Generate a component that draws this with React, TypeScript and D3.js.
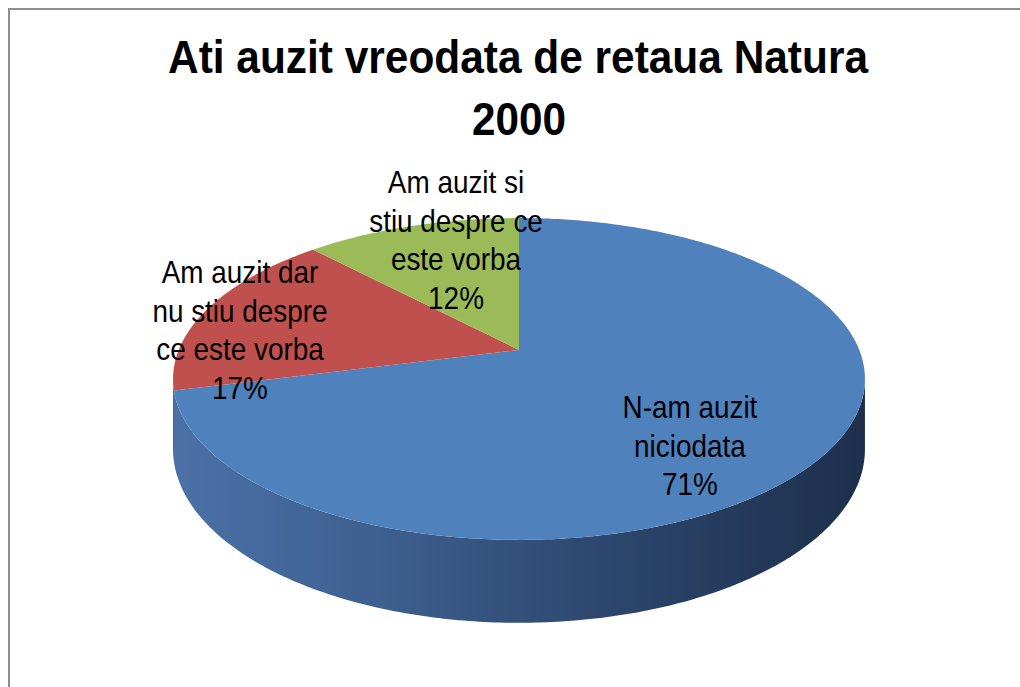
import * as d3 from "d3";

// chart data
const categories = [
  "N-am auzit niciodata",
  "Am auzit dar nu stiu despre ce este vorba",
  "Am auzit si stiu despre ce este vorba",
];
const values = [71, 17, 12];
const labelLines = [
  ["N-am auzit", "niciodata"],
  ["Am auzit dar", "nu stiu despre", "ce este vorba"],
  ["Am auzit si", "stiu despre ce", "este vorba"],
];
const titleLines = ["Ati auzit vreodata de retaua Natura", "2000"];

const topColors = ["#4f81bd", "#c0504d", "#9bbb59"];
const sideColors = ["url(#blueSide)", "#8c3b39", "#6f8a3c"];

const width = 1020;
const height = 687;

// perspective projection of the pie disk onto the screen
const cx = 519;
const cy = 350;
const A = 340.3;
const D = 92.7;
const g = -0.18;
const depth = 68;

const proj = (theta: number, k = 1, z = 0): [number, number] => {
  const u = k * Math.sin(theta);
  const v = -k * Math.cos(theta);
  const w = 1 + g * v;
  return [cx + (A * u) / w, (cy + D * v) / w + (z * depth) / w];
};

// silhouette angles (left / right extremes of the top face)
const rightEdge = Math.acos(g);
const leftEdge = 2 * Math.PI - Math.acos(g);

const font = "'Liberation Sans', Arial, sans-serif";
const labelK = [0.594, 0.892, 0.549];
const labelDy = [35, 17, -37];
const lineGap = 38.5;
const squeeze = 0.9; // the original uses a narrow face

const line = d3.line();

const sample = (a: number, b: number, k: number, z: number) => {
  const n = Math.max(2, Math.ceil(Math.abs(b - a) * 80));
  return d3.range(n + 1).map((i) => proj(a + ((b - a) * i) / n, k, z));
};

const App = () => {
  const total = d3.sum(values);
  const arcs = d3
    .pie<number>()
    .sort(null)
    .value((d) => d)(values);

  const sides = arcs
    .map((a, i) => {
      const s = Math.max(a.startAngle, rightEdge);
      const e = Math.min(a.endAngle, leftEdge);
      if (e <= s) return null;
      const pts = [...sample(s, e, 1, 0), ...sample(e, s, 1, 1)];
      return <path key={"side" + i} d={line(pts) + "Z"} fill={sideColors[i]} />;
    })
    .filter(Boolean);

  return (
    <svg
      width={width}
      height={height}
      style={{ position: "absolute", left: 0, top: 0, background: "#fff" }}
    >
      <defs>
        <linearGradient id="blueSide" gradientUnits="userSpaceOnUse" x1={173} x2={865} y1={0} y2={0}>
          <stop offset="0" stopColor="#4b71a7" />
          <stop offset="0.3" stopColor="#3e5f8f" />
          <stop offset="0.6" stopColor="#2e4870" />
          <stop offset="1" stopColor="#1d2f4b" />
        </linearGradient>
      </defs>
      <rect x={9} y={9} width={1040} height={720} fill="none" stroke="#8e8e8e" strokeWidth={2} />

      <g fontFamily={font} fontWeight="bold" fontSize={47} textAnchor="middle" fill="#000">
        <text x={518} y={73} textLength={700} lengthAdjust="spacingAndGlyphs">
          {titleLines[0]}
        </text>
        <text x={519} y={135} textLength={94} lengthAdjust="spacingAndGlyphs">
          {titleLines[1]}
        </text>
      </g>

      {sides}

      {arcs.map((a, i) => {
        const pts = [proj(0, 0), ...sample(a.startAngle, a.endAngle, 1, 0)];
        return <path key={categories[i]} d={line(pts) + "Z"} fill={topColors[i]} />;
      })}

      <g fontFamily={font} fontSize={31} textAnchor="middle" fill="#000">
        {arcs.map((a, i) => {
          const mid = (a.startAngle + a.endAngle) / 2;
          const [lx, ly] = proj(mid, labelK[i]);
          const lines = [...labelLines[i], Math.round((values[i] / total) * 100) + "%"];
          const y0 = ly + labelDy[i] - ((lines.length - 1) / 2) * lineGap + 11;
          return (
            <text key={"lab" + i} transform={`translate(${lx},0) scale(${squeeze},1)`}>
              {lines.map((t, j) => (
                <tspan key={j} x={0} y={y0 + j * lineGap}>
                  {t}
                </tspan>
              ))}
            </text>
          );
        })}
      </g>
    </svg>
  );
};

export default App;
